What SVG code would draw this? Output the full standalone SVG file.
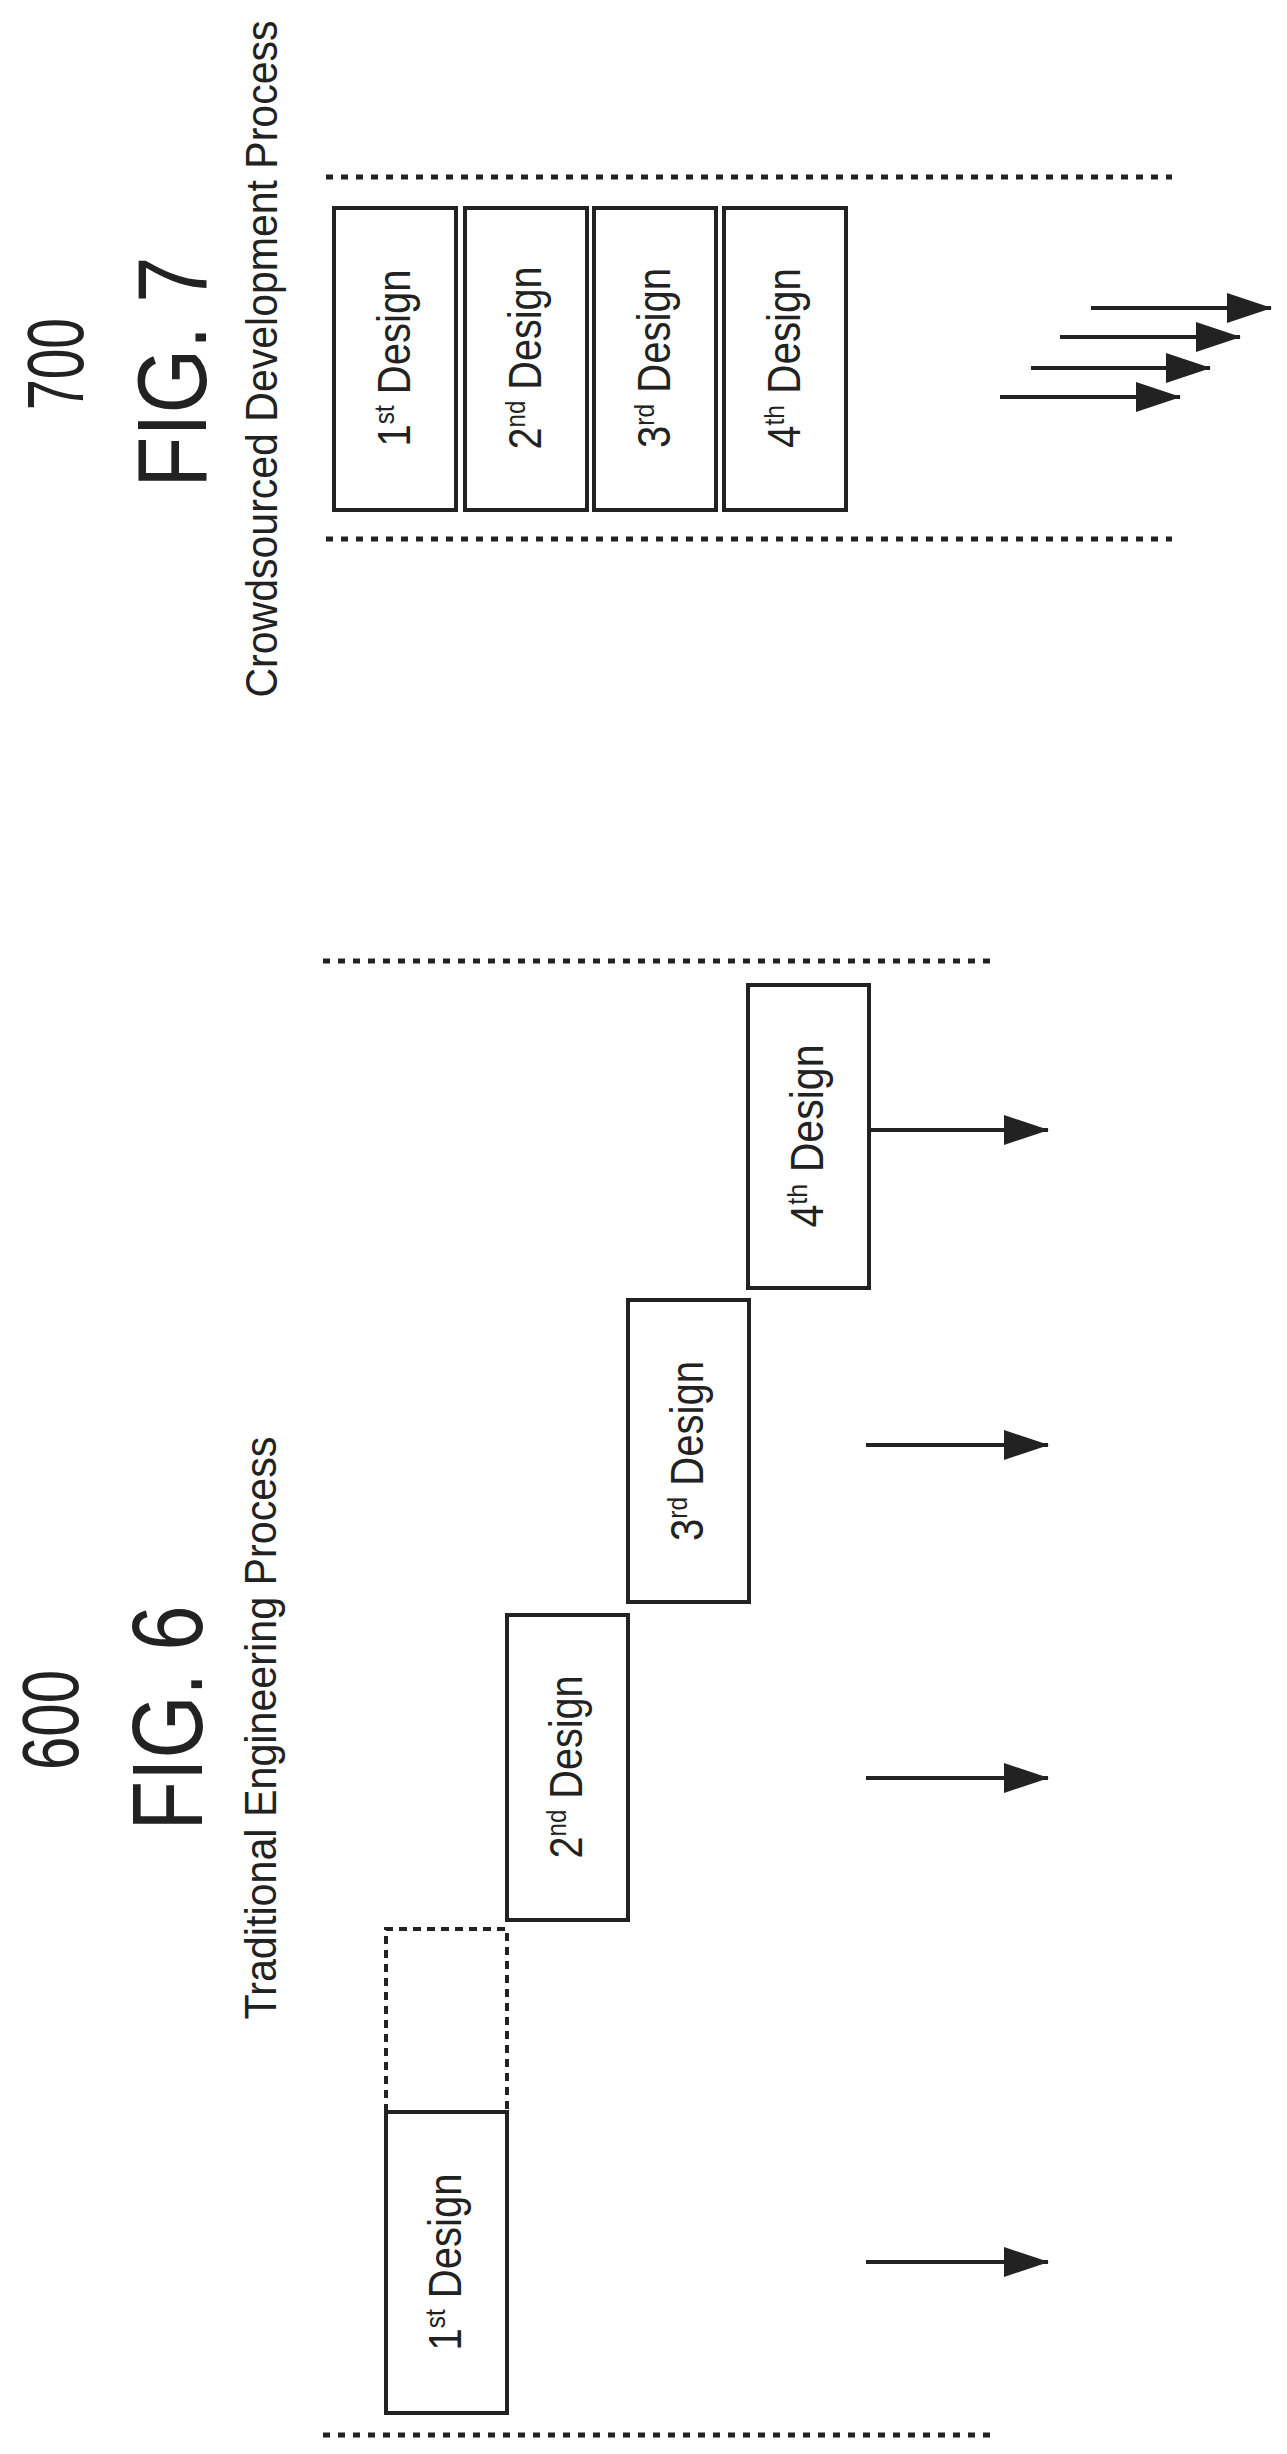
<svg xmlns="http://www.w3.org/2000/svg" width="1287" height="2454" viewBox="0 0 1287 2454">
<style>
.box{fill:#fff;stroke:#222;stroke-width:4}
.dot{stroke:#222;stroke-width:5;stroke-dasharray:7 8;fill:none}
.dash{stroke:#222;stroke-width:4;stroke-dasharray:8 6;fill:none}
.arr{stroke:#222;stroke-width:4;fill:none;marker-end:url(#ah)}
text{font-family:"Liberation Sans",Arial,sans-serif;fill:#222}
.bt{font-size:46px;text-anchor:middle}
.sup{font-size:28px}
</style>
<defs>
<marker id="ah" markerUnits="userSpaceOnUse" markerWidth="46" markerHeight="32" refX="44" refY="15" orient="auto">
<path d="M0,0 L45,15 L0,30 Z" fill="#222"/>
</marker>
</defs>
<g id="fig7-labels">
<text transform="translate(83,364) rotate(-90)" font-size="80" text-anchor="middle" textLength="92" lengthAdjust="spacingAndGlyphs">700</text>
<text transform="translate(206,372) rotate(-90)" font-size="98" text-anchor="middle" textLength="231" lengthAdjust="spacingAndGlyphs">FIG. 7</text>
<text transform="translate(277,359) rotate(-90)" font-size="44" text-anchor="middle" textLength="677" lengthAdjust="spacingAndGlyphs">Crowdsourced Development Process</text>
</g>
<g id="fig7-bounds">
<line class="dot" x1="326" y1="177" x2="1172" y2="177"/>
<line class="dot" x1="326" y1="539" x2="1172" y2="539"/>
</g>
<g id="fig7-d1"><rect class="box" x="334" y="208" width="122" height="302"/>
<text class="bt" transform="translate(410,358) rotate(-90)" textLength="177" lengthAdjust="spacingAndGlyphs">1<tspan class="sup" dy="-16">st</tspan><tspan dy="16"> Design</tspan></text></g>
<g id="fig7-d2"><rect class="box" x="465" y="208" width="122" height="302"/>
<text class="bt" transform="translate(541,358) rotate(-90)" textLength="183" lengthAdjust="spacingAndGlyphs">2<tspan class="sup" dy="-16">nd</tspan><tspan dy="16"> Design</tspan></text></g>
<g id="fig7-d3"><rect class="box" x="594" y="208" width="122" height="302"/>
<text class="bt" transform="translate(670,358) rotate(-90)" textLength="180" lengthAdjust="spacingAndGlyphs">3<tspan class="sup" dy="-16">rd</tspan><tspan dy="16"> Design</tspan></text></g>
<g id="fig7-d4"><rect class="box" x="724" y="208" width="122" height="302"/>
<text class="bt" transform="translate(800,358) rotate(-90)" textLength="180" lengthAdjust="spacingAndGlyphs">4<tspan class="sup" dy="-16">th</tspan><tspan dy="16"> Design</tspan></text></g>

<g id="fig6-labels">
<text transform="translate(78,1720) rotate(-90)" font-size="80" text-anchor="middle" textLength="100" lengthAdjust="spacingAndGlyphs">600</text>
<text transform="translate(202,1718) rotate(-90)" font-size="100" text-anchor="middle" textLength="225" lengthAdjust="spacingAndGlyphs">FIG. 6</text>
<text transform="translate(276,1728) rotate(-90)" font-size="44" text-anchor="middle" textLength="583" lengthAdjust="spacingAndGlyphs">Traditional Engineering Process</text>
</g>
<g id="fig6-bounds">
<line class="dot" x1="323" y1="961" x2="990" y2="961"/>
<line class="dot" x1="323" y1="2435" x2="990" y2="2435"/>
</g>
<g id="fig6-d1"><rect class="box" x="386" y="2112" width="121" height="301"/>
<text class="bt" transform="translate(461,2262) rotate(-90)" textLength="177" lengthAdjust="spacingAndGlyphs">1<tspan class="sup" dy="-16">st</tspan><tspan dy="16"> Design</tspan></text></g>
<g id="fig6-d1-ghost"><path class="dash" d="M386,2112 L386,1929 L507,1929 L507,2112"/></g>
<g id="fig6-d2"><rect class="box" x="507" y="1615" width="121" height="305"/>
<text class="bt" transform="translate(582,1767) rotate(-90)" textLength="183" lengthAdjust="spacingAndGlyphs">2<tspan class="sup" dy="-16">nd</tspan><tspan dy="16"> Design</tspan></text></g>
<g id="fig6-d3"><rect class="box" x="628" y="1300" width="121" height="302"/>
<text class="bt" transform="translate(703,1451) rotate(-90)" textLength="180" lengthAdjust="spacingAndGlyphs">3<tspan class="sup" dy="-16">rd</tspan><tspan dy="16"> Design</tspan></text></g>
<g id="fig6-d4"><rect class="box" x="748" y="985" width="121" height="303"/>
<text class="bt" transform="translate(823,1136) rotate(-90)" textLength="183" lengthAdjust="spacingAndGlyphs">4<tspan class="sup" dy="-16">th</tspan><tspan dy="16"> Design</tspan></text></g>

<g id="connectors">
<line class="arr" x1="1000" y1="397" x2="1180" y2="397"/>
<line class="arr" x1="1031" y1="368" x2="1210" y2="368"/>
<line class="arr" x1="1060" y1="337" x2="1240" y2="337"/>
<line class="arr" x1="1091" y1="308" x2="1271" y2="308"/>
<line class="arr" x1="869" y1="1130" x2="1048" y2="1130"/>
<line class="arr" x1="866" y1="1445" x2="1048" y2="1445"/>
<line class="arr" x1="866" y1="1778" x2="1048" y2="1778"/>
<line class="arr" x1="866" y1="2262" x2="1048" y2="2262"/>
</g>
</svg>
